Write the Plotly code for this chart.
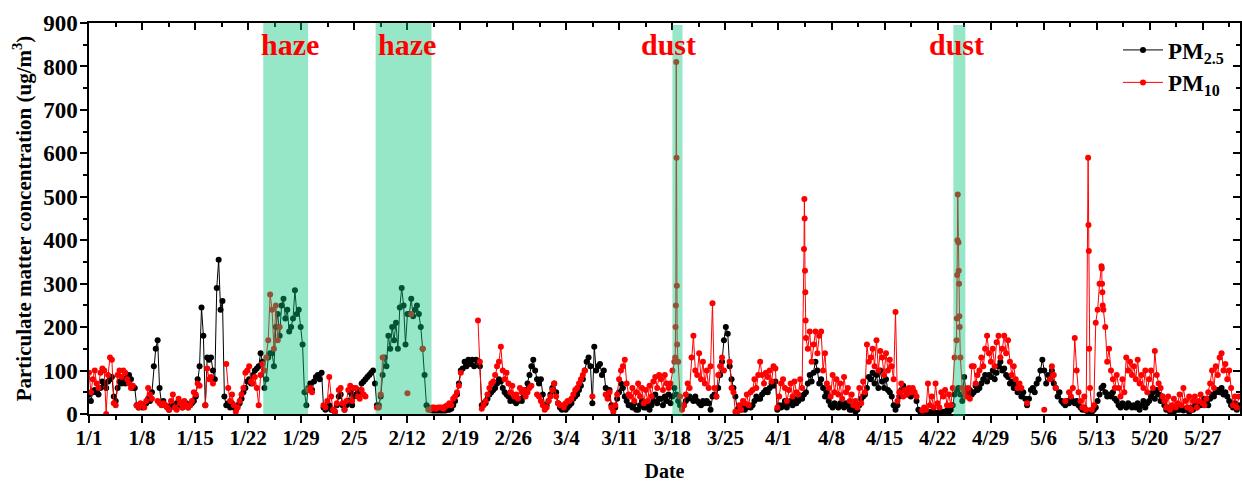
import pandas as pd
import plotly.graph_objects as go

N = None
# ---------------- data: readings evenly spaced, ~4 per day from 2016-01-01 00:00 to 2016-05-31 18:00 ----------------
first_reading = "2016-01-01 00:00"
last_reading = "2016-05-31 18:00"

pm25 = [
    45,30,50,55,  50,45,60,75,  70,60,75,80,  85,40,30,60,  75,70,80,70,  85,90,80,60,  60,20,15,20,
    15,20,25,35,  30,50,110,150,  170,60,25,30,  20,15,10,20,  20,15,25,30,  20,15,20,25,  15,20,25,30,
    40,80,110,245,  180,20,130,125,  130,100,80,290,  355,240,260,40,  20,25,15,25,  15,10,20,25,  35,50,60,75,
    80,70,90,100,  105,110,140,120,  60,80,130,140,  140,110,200,230,  180,250,265,220,  240,190,200,220,  285,230,240,200,
    160,50,20,60,  70,55,75,85,  90,80,95,15,  10,15,20,10,  10,5,20,40,  45,20,10,20,  30,50,20,40,
    45,55,50,70,  75,80,85,90,  95,100,70,20,  20,40,90,130,  110,180,150,200,  170,210,150,245,  290,250,160,230,
    230,265,225,240,  250,230,200,150,  90,20,15,10,  8,8,8,8,  8,8,8,8,  10,10,12,20,  30,45,70,100,
    105,120,110,125,  115,125,110,125,  120,110,20,25,  25,35,45,50,  55,60,70,80,  75,60,50,45,  40,30,35,30,
    25,30,35,30,  40,55,70,90,  110,125,100,80,  70,80,45,20,  20,30,45,60,  70,50,25,15,  10,15,10,15,
    20,25,35,40,  45,55,65,80,  100,120,130,110,  25,155,100,110,  115,90,100,60,  40,55,20,10,  15,35,50,70,
    60,40,30,20,  20,15,25,10,  10,20,30,15,  15,25,10,20,  30,45,25,35,  35,20,40,30,  45,25,40,60,
    45,30,20,15,  20,30,35,40,  35,30,40,30,  25,20,30,25,  30,25,10,40,  45,40,60,90,  120,170,200,185,
    110,80,60,40,  10,15,10,20,  10,15,20,15,  20,30,40,35,  35,45,50,55,  50,60,70,65,  75,10,20,15,
    20,30,15,25,  30,20,35,25,  30,40,35,45,  50,70,90,75,  95,120,100,70,  80,60,40,50,  30,20,15,25,
    20,15,25,20,  15,25,20,10,  10,15,5,10,  20,35,40,45,  60,85,80,95,  70,90,60,100,  75,60,80,55,
    50,40,20,10,  20,40,55,65,  55,45,50,40,  55,45,30,10,  5,3,5,3,  3,5,3,5,  3,2,5,3,
    5,3,8,5,  10,20,45,55,  60,45,30,85,  50,40,55,45,  50,65,55,60,  70,80,90,75,  90,85,100,80,
    95,110,120,100,  105,90,85,70,  75,60,70,50,  60,40,50,35,  20,35,55,60,  50,70,80,100,  125,100,70,90,
    80,100,70,60,  40,50,30,25,  20,30,25,35,  30,25,30,20,  15,10,15,8,  5,8,5,10,  15,30,45,60,
    65,50,40,45,  40,50,35,30,  20,15,25,20,  15,25,20,15,  20,15,25,10,  20,30,15,25,  30,40,50,35,
    55,45,30,40,  20,10,15,5,  10,5,15,10,  10,15,8,12,  10,5,15,10,  20,15,25,20,  25,35,30,20,
    35,45,40,50,  55,50,60,45,  50,40,30,20,  15,25,10,20,
]

pm10 = [
    95,50,80,100,  70,60,95,105,  100,0,90,130,  125,25,20,90,  100,85,100,95,  80,70,60,65,  N,20,15,25,
    20,15,30,60,  45,35,N,N,  30,25,20,25,  20,15,10,30,  45,15,10,35,  25,15,30,20,  15,20,30,50,
    45,70,65,N,  N,20,105,80,  85,70,N,N,  N,N,N,N,  115,60,30,45,  20,5,15,30,  45,60,95,100,
    110,75,70,85,  60,20,90,115,  100,130,170,275,  240,150,250,170,  200,N,N,N,  N,N,N,N,  N,N,N,N,
    N,N,N,55,  60,50,N,N,  N,N,N,20,  15,30,85,40,  10,5,25,55,  60,25,10,30,  55,65,30,60,
    60,40,35,55,  45,40,N,N,  N,N,N,15,  15,45,130,N,  N,N,N,N,  N,N,N,N,  N,N,N,48,
    N,230,N,N,  N,N,N,150,  N,N,10,10,  15,15,12,15,  15,15,12,18,  20,25,20,35,  40,50,65,95,
    N,N,N,N,  N,N,N,N,  215,120,12,20,  30,45,60,70,  75,90,110,120,  155,100,80,95,  70,50,65,40,
    45,35,60,50,  55,40,50,60,  65,N,N,45,  40,30,20,10,  15,30,40,55,  70,40,25,20,  20,15,25,30,
    30,35,45,55,  60,70,80,90,  100,N,N,N,  40,N,N,N,  N,N,N,45,  35,50,15,5,  20,45,80,100,
    110,125,70,45,  40,60,30,50,  70,40,60,25,  55,30,65,40,  75,85,60,90,  80,55,90,70,  60,70,100,120,
    810,120,40,10,  20,45,70,60,  130,180,100,90,  140,80,120,70,  100,60,110,255,  60,40,90,110,  130,100,N,N,
    120,60,50,5,  5,20,10,30,  25,45,20,50,  55,80,60,90,  120,90,70,95,  85,100,75,110,  105,15,40,70,
    80,60,30,55,  70,40,75,50,  45,80,60,380,  175,150,190,120,  160,190,140,180,  190,100,140,70,  60,40,90,50,
    80,45,70,35,  85,50,60,30,  45,20,30,15,  60,25,75,50,  160,120,130,150,  110,170,100,145,  130,90,140,100,
    125,110,80,235,  30,50,70,40,  55,45,60,50,  60,50,40,N,  N,8,15,10,  70,20,40,15,  70,25,15,50,
    40,55,20,45,  20,60,130,170,  395,130,60,50,  40,60,35,110,  110,70,90,100,  130,110,150,180,  140,120,150,110,
    165,180,130,150,  180,140,170,120,  90,110,80,60,  70,60,N,N,  25,N,N,N,  N,N,N,N,  N,10,N,N,
    80,110,90,60,  N,N,N,N,  30,N,50,40,  60,175,100,50,  30,15,40,10,  590,60,10,20,  210,240,300,340,
    240,200,120,150,  100,80,60,90,  60,40,80,50,  130,100,120,90,  110,80,125,70,  90,60,100,50,  80,100,60,145,
    90,70,60,40,  30,15,40,10,  20,35,15,25,  45,20,60,30,  15,40,10,30,  40,15,30,45,  25,20,35,50,
    70,100,60,110,  90,130,140,100,  115,80,100,60,  20,40,15,40,
]

# extra hourly PM10 readings during the short spikes
pm10_extra_times = [
    "2016-03-18 09:00", "2016-03-18 10:00", "2016-03-18 11:00",
    "2016-03-18 13:00", "2016-03-18 14:00", "2016-03-18 15:00",
    "2016-04-04 10:00", "2016-04-04 11:00", "2016-04-04 12:00", "2016-04-04 13:00", "2016-04-04 14:00",
    "2016-04-24 13:00", "2016-04-24 14:00", "2016-04-24 15:00", "2016-04-24 16:00",
    "2016-04-24 19:00", "2016-04-24 20:00", "2016-04-24 21:00", "2016-04-24 22:00",
    "2016-05-11 22:00", "2016-05-11 23:00", "2016-05-12 00:00",
    "2016-05-13 16:00", "2016-05-13 17:00", "2016-05-13 18:00", "2016-05-13 19:00",
]
pm10_extra_vals = [
    130, 200, 250,
    590, 295, 160,
    495, 450, 330, 280, 215,
    220, 320, 400, 505,
    330, 300, 225, 200,
    435, 375, 150,
    335, 300, 280, 250,
]

# pollution episodes: label, start, end, label position
event_labels = ["haze", "haze", "dust", "dust"]
event_starts = ["2016-01-24 00:00", "2016-02-07 20:00", "2016-03-18 00:00", "2016-04-24 02:00"]
event_ends = ["2016-01-29 22:00", "2016-02-15 05:00", "2016-03-19 08:00", "2016-04-25 16:00"]
event_label_x = ["2016-01-27 12:00", "2016-02-12 00:00", "2016-03-17 11:00", "2016-04-24 13:00"]

assert len(pm25) == 604, len(pm25)
assert len(pm10) == 604, len(pm10)
assert len(pm10_extra_times) == len(pm10_extra_vals)

# ---------------- build series ----------------
grid = pd.date_range(first_reading, last_reading, periods=len(pm25))
s25 = pd.Series(pm25, index=grid, dtype="float")
s10 = pd.concat([
    pd.Series(pm10, index=grid, dtype="float"),
    pd.Series(pm10_extra_vals, index=pd.to_datetime(pm10_extra_times), dtype="float"),
]).sort_index()

FONT = "Liberation Serif"
x_range = ["2016-01-01 00:00", "2016-05-31 22:00"]
DAY = 86400000

fig = go.Figure()
fig.add_trace(go.Scatter(
    x=s25.index, y=s25.values, mode="lines+markers", name="PM<sub>2.5</sub>", legend="legend",
    line=dict(color="black", width=1), marker=dict(color="black", size=6, symbol="circle"),
))
fig.add_trace(go.Scatter(
    x=s10.index, y=s10.values, mode="lines+markers", name="PM<sub>10</sub>", legend="legend2",
    line=dict(color="#FF0000", width=1), marker=dict(color="#FF0000", size=6, symbol="circle"),
))
# carrier for the mirrored top/right axes
fig.add_trace(go.Scatter(x=[], y=[], xaxis="x2", yaxis="y2", showlegend=False, hoverinfo="skip"))

for lab, s, e, lx in zip(event_labels, event_starts, event_ends, event_label_x):
    is_dust = lab == "dust"
    fig.add_shape(type="rect", xref="x", yref="paper", x0=s, x1=e,
                  y0=-0.005 if is_dust else 0, y1=0.995 if is_dust else 1,
                  fillcolor="rgb(5,195,124)", opacity=0.42, line=dict(width=0), layer="above")
    fig.add_annotation(x=lx, y=0.944, xref="x", yref="paper", text=lab, showarrow=False,
                       xanchor="center", yanchor="middle",
                       font=dict(family=FONT, size=30, color="#FF0000", weight="bold"))

legend_font = dict(family=FONT, size=23, color="black", weight="bold")
tickfont_x = dict(family=FONT, size=21, color="black", weight="bold")
tickfont_y = dict(family=FONT, size=23, color="black", weight="bold")
fig.update_layout(
    width=1242, height=482,
    margin=dict(l=89, r=2, t=23, b=68),
    paper_bgcolor="white", plot_bgcolor="white",
    showlegend=True,
    legend=dict(x=0.894, y=0.931, xanchor="left", yanchor="middle", bgcolor="rgba(0,0,0,0)",
                font=legend_font, itemwidth=40),
    legend2=dict(x=0.894, y=0.848, xanchor="left", yanchor="middle", bgcolor="rgba(0,0,0,0)",
                 font=legend_font, itemwidth=40),
    xaxis=dict(
        type="date", range=x_range, showgrid=False, zeroline=False, automargin=False,
        showline=True, linecolor="black", linewidth=1.5,
        tickmode="linear", tick0="2016-01-01", dtick=7 * DAY, tickformat="%-m/%-d",
        ticks="outside", ticklen=7, tickwidth=1.5, tickcolor="black", ticklabelstandoff=-3,
        minor=dict(ticks="outside", ticklen=4, tickwidth=1.5, tickcolor="black",
                   tick0="2016-01-01", dtick=3.5 * DAY, showgrid=False),
        tickfont=tickfont_x,
        title=dict(text="<b>Date</b>", font=dict(family=FONT, size=20, color="black"), standoff=20),
    ),
    xaxis2=dict(
        type="date", range=x_range, overlaying="x", side="top", showgrid=False, zeroline=False,
        automargin=False,
        showline=True, linecolor="black", linewidth=1.5, showticklabels=False,
        tickmode="linear", tick0="2016-01-01", dtick=7 * DAY,
        ticks="inside", ticklen=7, tickwidth=1.5, tickcolor="black",
        minor=dict(ticks="inside", ticklen=4, tickwidth=1.5, tickcolor="black",
                   tick0="2016-01-01", dtick=3.5 * DAY, showgrid=False),
    ),
    yaxis=dict(
        range=[0, 900], showgrid=False, zeroline=False, automargin=False,
        showline=True, linecolor="black", linewidth=1.5,
        tickmode="linear", tick0=0, dtick=100,
        ticks="outside", ticklen=7, tickwidth=1.5, tickcolor="black", ticklabelstandoff=-2,
        minor=dict(ticks="outside", ticklen=4, tickwidth=1.5, tickcolor="black", dtick=50, showgrid=False),
        tickfont=tickfont_y,
        title=dict(text="<b>Particulate matter concentration (ug/m<sup>3</sup>)</b>",
                   font=dict(family=FONT, size=21, color="black"), standoff=6),
    ),
    yaxis2=dict(
        range=[0, 900], overlaying="y", side="right", showgrid=False, zeroline=False,
        automargin=False,
        showline=True, linecolor="black", linewidth=1.5, showticklabels=False,
        tickmode="linear", tick0=0, dtick=100,
        ticks="inside", ticklen=7, tickwidth=1.5, tickcolor="black",
        minor=dict(ticks="inside", ticklen=4, tickwidth=1.5, tickcolor="black", dtick=50, showgrid=False),
    ),
)

fig.write_html("out.html", config={"displayModeBar": False},
               post_script="document.body.style.margin='0';document.body.style.padding='0';")
